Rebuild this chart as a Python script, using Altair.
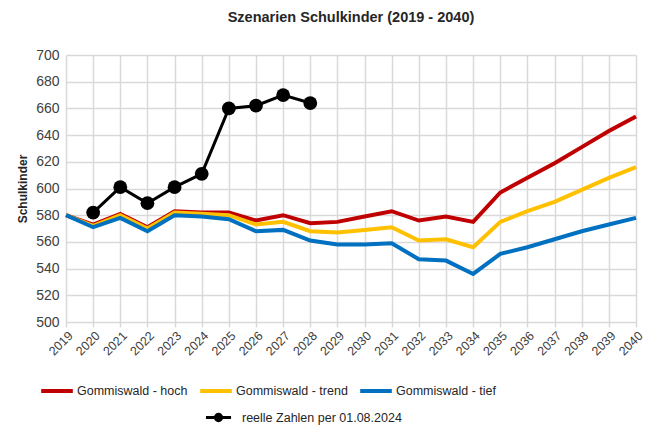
import altair as alt
import pandas as pd

years = list(range(2019, 2041))
hoch = [580, 573, 581, 571, 583, 582, 582, 576, 580, 574, 575, 579, 583, 576, 579, 575, 597, 608, 619, 631, 643, 654]
trend = [580, 572, 580, 570, 582, 581, 580, 573, 575, 568, 567, 569, 571, 561, 562, 556, 575, 583, 590, 599, 608, 616]
tief = [580, 571, 578, 568, 580, 579, 577, 568, 569, 561, 558, 558, 559, 547, 546, 536, 551, 556, 562, 568, 573, 578]

real_years = list(range(2020, 2029))
real = [582, 601, 589, 601, 611, 660, 662, 670, 664]

series_names = ["Gommiswald - hoch", "Gommiswald - trend", "Gommiswald - tief"]
series_colors = ["#C00000", "#FFC000", "#0070C0"]
real_name = "reelle Zahlen per 01.08.2024"
y_ticks = list(range(500, 701, 20))

rows = []
for name, vals in zip(series_names, [hoch, trend, tief]):
    for y, v in zip(years, vals):
        rows.append({"Jahr": y, "Wert": v, "Serie": name, "order": series_names.index(name)})
df = pd.DataFrame(rows)
df_real = pd.DataFrame({"Jahr": real_years, "Wert": real, "Serie": real_name})

FONT = "Liberation Sans"

x_enc = alt.X("Jahr:Q", scale=alt.Scale(domain=[2019, 2040], nice=False, zero=False),
              axis=alt.Axis(values=years, tickCount=22, format="d", labelAngle=-45, title=None,
                            grid=True, gridColor="#d9d9d9", gridWidth=1.5,
                            domain=False, tickColor="#d9d9d9", tickSize=5, tickWidth=1.5,
                            labelFont=FONT, labelFontSize=12.5, labelColor="#404040",
                            labelPadding=2, labelOverlap=False, labelBound=False,
                            labelFlush=False))
y_enc = alt.Y("Wert:Q", scale=alt.Scale(domain=[500, 700], nice=False, zero=False),
              axis=alt.Axis(values=y_ticks, tickCount=11, title="Schulkinder",
                            grid=True, gridColor="#d9d9d9", gridWidth=1.5,
                            domain=False, ticks=False, labelPadding=7, labelOverlap=False,
                            labelFont=FONT, labelFontSize=14, labelColor="#404040",
                            titleFont=FONT, titleFontSize=12, titleFontWeight="bold",
                            titleColor="#262626", titlePadding=6))

lines = alt.Chart(df).mark_line(strokeWidth=4).encode(
    x=x_enc, y=y_enc,
    color=alt.Color("Serie:N",
                    scale=alt.Scale(domain=series_names, range=series_colors),
                    legend=alt.Legend(orient="none", legendX=-27, legendY=318,
                                      direction="horizontal", title=None,
                                      symbolType="stroke", symbolStrokeWidth=4,
                                      symbolSize=1000, labelFont=FONT, labelFontSize=12.5,
                                      labelColor="#262626", labelOffset=2,
                                      columnPadding=4, labelLimit=300)),
    detail="Serie:N",
    order=alt.Order("order:Q"),
)

real_symbol = "M-2.2,0H2.2M-0.55,0A0.55,0.55,0,1,1,0.55,0A0.55,0.55,0,1,1,-0.55,0Z"

real_line = alt.Chart(df_real).mark_line(strokeWidth=3, point=alt.OverlayMarkDef(size=190, filled=True, opacity=1)).encode(
    x=x_enc, y=y_enc,
    color=alt.Color("Serie:N",
                    scale=alt.Scale(domain=[real_name], range=["black"]),
                    legend=alt.Legend(orient="none", legendX=145, legendY=355,
                                      title=None, symbolType=real_symbol,
                                      symbolSize=130, symbolStrokeWidth=3,
                                      symbolFillColor="black",
                                      labelFont=FONT, labelFontSize=12.5,
                                      labelColor="#262626", labelOffset=16, labelLimit=300)),
)

chart = alt.layer(lines, real_line).resolve_scale(color="independent").properties(
    width=570, height=267,
    title=alt.TitleParams("Szenarien Schulkinder (2019 - 2040)", font=FONT, fontSize=14.5,
                          fontWeight="bold", color="#262626", offset=23, anchor="middle"),
    padding={"left": 8, "top": 1, "right": 0, "bottom": 0},
).configure_view(stroke=None)

chart.save("out.html", embed_options={"renderer": "svg", "actions": False})
